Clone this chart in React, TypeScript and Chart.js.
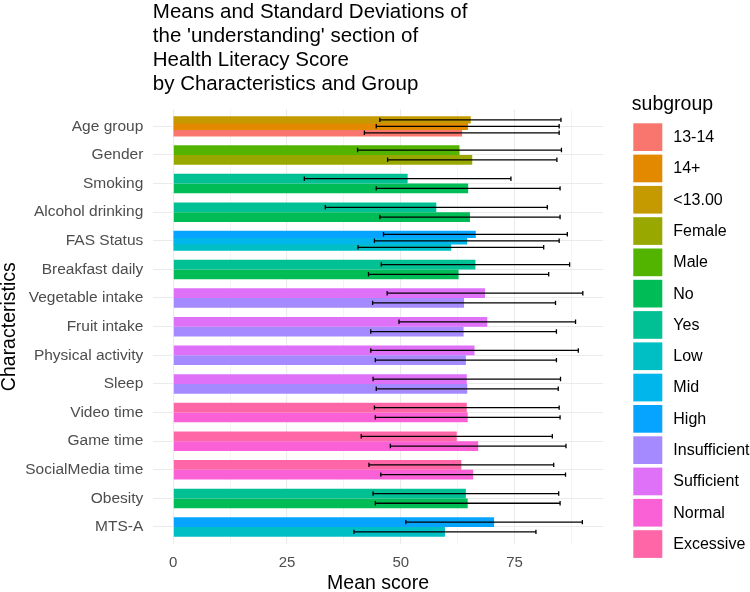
import { useEffect, useRef } from 'react';
import { Chart, registerables } from 'chart.js';

Chart.register(...registerables);

const FONT = '"Liberation Sans", Arial, sans-serif';

// Characteristics, listed from top to bottom of the chart
const characteristics = [
  'Age group',
  'Gender',
  'Smoking',
  'Alcohol drinking',
  'FAS Status',
  'Breakfast daily',
  'Vegetable intake',
  'Fruit intake',
  'Physical activity',
  'Sleep',
  'Video time',
  'Game time',
  'SocialMedia time',
  'Obesity',
  'MTS-A',
];

// Subgroup factor levels and their hue colours
const subgroups = [
  '13-14', '14+', '<13.00', 'Female', 'Male', 'No', 'Yes',
  'Low', 'Mid', 'High', 'Insufficient', 'Sufficient', 'Normal', 'Excessive',
];
const subgroupColors = [
  '#F8766D', '#E38900', '#C49A00', '#99A800', '#53B400', '#00BC56', '#00C094',
  '#00BFC4', '#00B6EB', '#06A4FF', '#A58AFF', '#DF70F8', '#FB61D7', '#FF66A8',
];

// Levels present in each characteristic (first level is drawn lowest)
const groupLevels: string[][] = [
  ['13-14', '14+', '<13.00'],
  ['Female', 'Male'],
  ['No', 'Yes'],
  ['No', 'Yes'],
  ['Low', 'Mid', 'High'],
  ['No', 'Yes'],
  ['Insufficient', 'Sufficient'],
  ['Insufficient', 'Sufficient'],
  ['Insufficient', 'Sufficient'],
  ['Insufficient', 'Sufficient'],
  ['Normal', 'Excessive'],
  ['Normal', 'Excessive'],
  ['Normal', 'Excessive'],
  ['No', 'Yes'],
  ['Low', 'High'],
];

// Mean 'understanding' score per level
const groupMeans: number[][] = [
  [63.4, 64.7, 65.3],
  [65.7, 62.9],
  [64.8, 51.5],
  [65.2, 57.8],
  [61.0, 64.5, 66.4],
  [62.7, 66.4],
  [63.9, 68.5],
  [63.8, 69.0],
  [64.3, 66.2],
  [64.6, 64.5],
  [64.7, 64.5],
  [67.0, 62.3],
  [65.9, 63.3],
  [64.7, 64.3],
  [59.7, 70.5],
];

// Standard deviation per level
const groupSds: number[][] = [
  [21.4, 20.1, 19.9],
  [18.6, 22.4],
  [20.2, 22.7],
  [19.8, 24.4],
  [20.4, 20.3, 20.2],
  [19.8, 20.7],
  [20.1, 21.5],
  [20.4, 19.4],
  [19.9, 22.8],
  [20.0, 20.6],
  [20.3, 20.3],
  [19.3, 21.0],
  [20.3, 20.3],
  [20.3, 20.4],
  [20.0, 19.4],
];

const xTickValues = [0, 25, 50, 75];

// Total width of one dodged group, in category units
const DODGE_WIDTH = 0.68;
const maxLevels = Math.max(...groupLevels.map((l) => l.length));

function dodgedPosition(groupIndex: number, levelIndex: number, count: number) {
  const slot = DODGE_WIDTH / count;
  return groupIndex + ((count - 1) / 2 - levelIndex) * slot;
}

function colorOf(level: string) {
  return subgroupColors[subgroups.indexOf(level)];
}

// Legend drawn to the right of the plotting panel
const subgroupLegend = {
  id: 'subgroupLegend',
  afterDraw(chart: any) {
    const { ctx, chartArea } = chart;
    const left = chartArea.right + 30;
    ctx.save();
    ctx.textAlign = 'left';
    ctx.textBaseline = 'middle';
    ctx.fillStyle = '#000000';
    ctx.font = `19.5px ${FONT}`;
    ctx.fillText('subgroup', left - 1.5, 105);
    ctx.font = `16px ${FONT}`;
    subgroups.forEach((name, i) => {
      const top = 123.3 + i * 31.3;
      ctx.fillStyle = subgroupColors[i];
      ctx.fillRect(left, top, 29, 27.7);
      ctx.fillStyle = '#000000';
      ctx.fillText(name, left + 40, top + 14.3);
    });
    ctx.restore();
  },
};

export default function App() {
  const canvasRef = useRef<HTMLCanvasElement | null>(null);

  useEffect(() => {
    const canvas = canvasRef.current;
    if (!canvas) return;

    const upper = Math.max(
      ...groupMeans.flatMap((ms, g) => ms.map((m, k) => m + groupSds[g][k]))
    );
    const xPad = upper * 0.05;

    const barDatasets = characteristics.map((name, g) => ({
      type: 'bar' as const,
      label: name,
      data: groupMeans[g].map((m, k) => ({
        x: m,
        y: dodgedPosition(g, k, groupLevels[g].length),
      })),
      backgroundColor: groupLevels[g].map(colorOf),
      borderWidth: 0,
      grouped: false,
      barPercentage: 1,
      categoryPercentage: maxLevels / groupLevels[g].length,
      order: 1,
    }));

    const errorPoints: { x: number | null; y: number | null }[] = [];
    groupMeans.forEach((means, g) => {
      means.forEach((m, k) => {
        const y = dodgedPosition(g, k, means.length);
        const sd = groupSds[g][k];
        errorPoints.push({ x: m - sd, y }, { x: m + sd, y }, { x: null, y: null });
      });
    });

    const errorDataset = {
      type: 'line' as const,
      label: 'sd',
      data: errorPoints,
      borderColor: '#000000',
      borderWidth: 1.3,
      spanGaps: false,
      fill: false,
      tension: 0,
      pointStyle: 'line',
      pointRotation: 90,
      pointRadius: 2.2,
      pointBorderWidth: 1.3,
      pointBorderColor: '#000000',
      pointBackgroundColor: '#000000',
      order: 0,
    };

    const chart = new Chart(canvas, {
      type: 'bar',
      data: { datasets: [...barDatasets, errorDataset] as any },
      options: {
        indexAxis: 'y',
        responsive: false,
        animation: false,
        events: [],
        layout: { padding: { left: 0, top: 0, bottom: 0, right: 146.7 } },
        plugins: {
          legend: { display: false },
          tooltip: { enabled: false },
          title: {
            display: true,
            text: [
              'Means and Standard Deviations of',
              "the 'understanding' section of",
              'Health Literacy Score',
              'by Characteristics and Group',
            ],
            align: 'start',
            fullSize: false,
            color: '#000000',
            font: { family: FONT, size: 20.5, weight: 'normal', lineHeight: 1.17 },
            padding: { top: 0.8, bottom: 12.4 },
          },
        },
        scales: {
          x: {
            type: 'linear',
            offset: false,
            min: -xPad,
            max: upper + xPad,
            afterBuildTicks: (axis: any) => {
              const minor = xTickValues.map((v) => v + 12.5);
              axis.ticks = [...xTickValues, ...minor]
                .sort((a, b) => a - b)
                .map((v) => ({ value: v }));
            },
            afterFit: (scale: any) => {
              scale.height = 47.8;
            },
            ticks: {
              callback: (v: any) => (xTickValues.includes(Number(v)) ? String(v) : ''),
              color: '#4D4D4D',
              font: { family: FONT, size: 15 },
              padding: 9.5,
              maxRotation: 0,
              autoSkip: false,
            },
            grid: {
              color: '#EBEBEB',
              offset: false,
              lineWidth: (ctx: any) => (xTickValues.includes(ctx.tick?.value) ? 1.1 : 0.55),
              drawTicks: false,
            },
            border: { display: false },
            title: {
              display: true,
              text: 'Mean score',
              color: '#000000',
              font: { family: FONT, size: 19.5, lineHeight: 1 },
              padding: { top: 0, bottom: -1.5 },
            },
          },
          y: {
            type: 'linear',
            reverse: true,
            offset: false,
            min: -0.6,
            max: characteristics.length - 1 + 0.6,
            afterBuildTicks: (axis: any) => {
              axis.ticks = characteristics.map((_, i) => ({ value: i }));
            },
            afterFit: (scale: any) => {
              scale.width = 152.8;
            },
            ticks: {
              callback: (v: any) => characteristics[Number(v)] ?? '',
              color: '#4D4D4D',
              font: { family: FONT, size: 15.5 },
              padding: 9.5,
              autoSkip: false,
            },
            grid: {
              color: '#EBEBEB',
              offset: false,
              lineWidth: 1.1,
              drawTicks: false,
            },
            border: { display: false },
            title: {
              display: true,
              text: 'Characteristics',
              color: '#000000',
              font: { family: FONT, size: 19.5, lineHeight: 1 },
              padding: { top: 0, bottom: 0 },
            },
          },
        },
      },
      plugins: [subgroupLegend],
    });

    return () => {
      chart.destroy();
    };
  }, []);

  return (
    <div style={{ position: 'absolute', left: 0, top: 0, width: 750, height: 592, background: '#ffffff' }}>
      <canvas ref={canvasRef} width={750} height={592} />
    </div>
  );
}
